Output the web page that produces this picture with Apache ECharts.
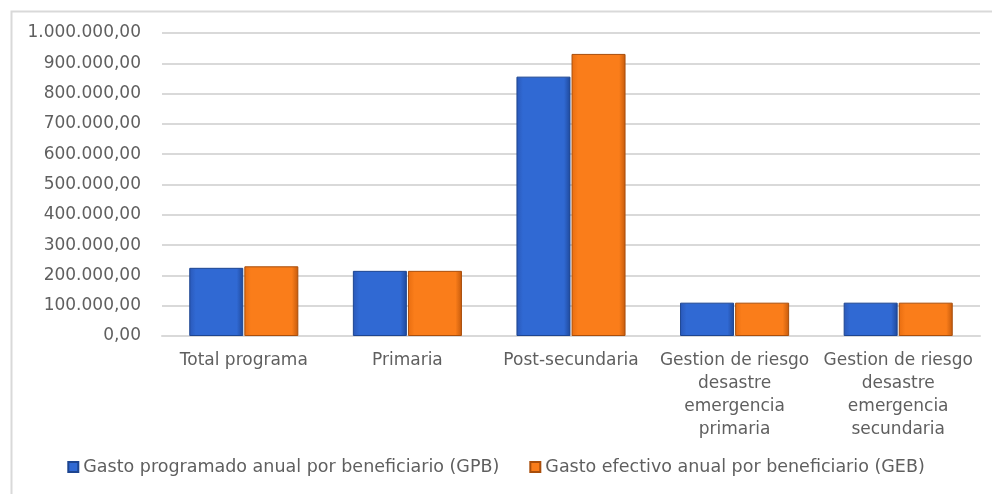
<!DOCTYPE html>
<html>
<head>
<meta charset="utf-8">
<script src="https://cdn.jsdelivr.net/npm/echarts@6/dist/echarts.min.js"></script>
<style>
  html, body { margin: 0; padding: 0; background: #fff; }
  #chart { width: 992px; height: 494px; }
</style>
</head>
<body>
<div id="chart"></div>
<script>
const categories = [
  'Total programa',
  'Primaria',
  'Post-secundaria',
  'Gestion de riesgo\ndesastre\nemergencia\nprimaria',
  'Gestion de riesgo\ndesastre\nemergencia\nsecundaria'
]
const gpbValues = [225000, 215000, 856000, 110000, 110000]
const gebValues = [230000, 215000, 931000, 110000, 110000]
const seriesNames = [
  'Gasto programado anual por beneficiario (GPB)',
  'Gasto efectivo anual por beneficiario (GEB)'
]

const fontFamily = '"DejaVu Sans", sans-serif'
const textColor = '#5f5f5f'

const fmt = (v) => {
  const parts = v.toFixed(2).split('.')
  const int = parts[0].replace(/\B(?=(\d{3})+(?!\d))/g, '.')
  return int + ',' + parts[1]
}

const grad = (c1, c2, c3) => new echarts.graphic.LinearGradient(0, 0, 1, 0, [
  { offset: 0, color: c1 },
  { offset: 0.12, color: c2 },
  { offset: 0.88, color: c2 },
  { offset: 1, color: c3 }
])

const chartDom = document.getElementById('chart')
const myChart = echarts.init(chartDom)
const option = {
  animation: false,
  graphic: [
    {
      type: 'rect',
      shape: { x: 11.5, y: 11.5, width: 992, height: 500 },
      style: { fill: 'none', stroke: '#d9d9d9', lineWidth: 2 },
      silent: true
    }
  ],
  grid: {
    left: 162,
    right: 12,
    top: 33,
    bottom: 158
  },
  legend: {
    bottom: 13,
    left: 'center',
    itemWidth: 10,
    itemHeight: 10,
    itemGap: 30,
    icon: 'rect',
    textStyle: { fontFamily, fontSize: 17.5, color: textColor },
    data: seriesNames
  },
  xAxis: {
    type: 'category',
    data: categories,
    axisLine: { lineStyle: { color: '#d9d9d9', width: 2 } },
    axisTick: { show: false },
    axisLabel: {
      interval: 0,
      margin: 13,
      fontFamily,
      fontSize: 17,
      color: textColor,
      lineHeight: 23
    }
  },
  yAxis: {
    type: 'value',
    min: 0,
    max: 1000000,
    interval: 100000,
    axisLine: { show: false },
    axisTick: { show: false },
    splitLine: { lineStyle: { color: '#d9d9d9', width: 2 } },
    axisLabel: {
      margin: 21,
      fontFamily,
      fontSize: 17,
      color: textColor,
      formatter: fmt
    }
  },
  series: [
    {
      name: seriesNames[0],
      type: 'bar',
      data: gpbValues,
      barWidth: 54,
      barGap: '2%',
      itemStyle: {
        color: grad('#2a58b8', '#3069d3', '#1f4899'),
        borderColor: '#1d4590',
        borderWidth: 1
      }
    },
    {
      name: seriesNames[1],
      type: 'bar',
      data: gebValues,
      barWidth: 54,
      itemStyle: {
        color: grad('#e86d10', '#fa7d1a', '#c45a0c'),
        borderColor: '#a94e0b',
        borderWidth: 1
      }
    }
  ]
}
myChart.setOption(option)
</script>
</body>
</html>
